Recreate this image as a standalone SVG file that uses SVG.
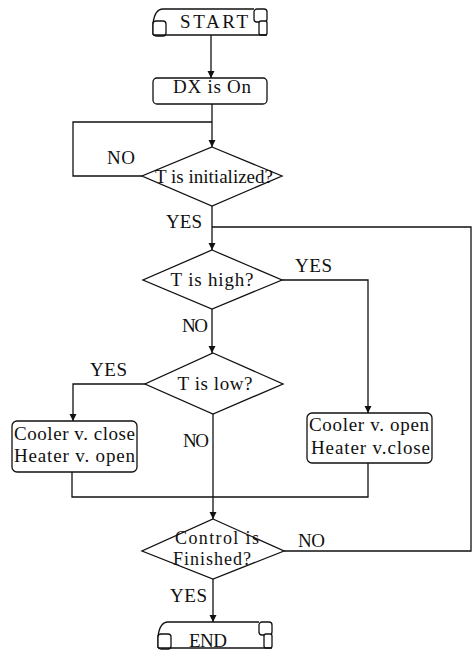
<svg xmlns="http://www.w3.org/2000/svg" width="476" height="651" viewBox="0 0 476 651">
<defs>
<marker id="arr" viewBox="0 0 10 10" refX="10" refY="5" markerWidth="7" markerHeight="8" markerUnits="userSpaceOnUse" orient="auto">
<path d="M0,0 L10,5 L0,10 z" fill="#111"/>
</marker>
<g id="scroll">
<path d="M0,26 L0,14 Q2,0 10,0 L101,0"/>
<rect x="101" y="0" width="13" height="13" rx="3"/>
<rect x="106" y="12" width="8" height="14" rx="2"/>
<rect x="0" y="12" width="13" height="15" rx="3"/>
<path d="M0,26 L114,26"/>
</g>
</defs>
<style>
.s{fill:none;stroke:#111;stroke-width:1.3}
.n{fill:#fff;stroke:#111;stroke-width:1.3}
text{font-family:"Liberation Serif","Times New Roman",serif;font-size:19px;fill:#111}
.m{text-anchor:middle}
.c{font-size:18px}
</style>
<rect width="476" height="651" fill="#fff"/>
<g id="connectors" class="s">
<path d="M211,35 L211,78" marker-end="url(#arr)"/>
<path d="M212,104 L212,147" marker-end="url(#arr)"/>
<path d="M142,176 L73,176 L73,122 L212,122"/>
<path d="M212,206 L212,250" marker-end="url(#arr)"/>
<path d="M284,551 L471,551 L471,227 L212,227"/>
<path d="M282,280 L368,280 L368,413" marker-end="url(#arr)"/>
<path d="M212,309 L212,353" marker-end="url(#arr)"/>
<path d="M145,384 L73,384 L73,421" marker-end="url(#arr)"/>
<path d="M213,414 L213,519" marker-end="url(#arr)"/>
<path d="M72,472 L72,497 L368,497 L368,463"/>
<path d="M213,579 L213,622" marker-end="url(#arr)"/>
</g>
<g id="start">
<use href="#scroll" x="153" y="9" class="n"/>
<text x="214" y="28" class="m" textLength="68">START</text>
</g>
<g id="dx">
<rect x="153" y="78" width="114" height="26" rx="4" class="n"/>
<text x="212" y="93" class="m" textLength="78">DX is On</text>
</g>
<g id="init">
<polygon points="212,147 282,176 212,206 142,176" class="n"/>
<text x="155" y="183" textLength="118">T is initialized?</text>
</g>
<g id="high">
<polygon points="212,250 282,280 212,309 143,280" class="n"/>
<text x="212" y="286" class="m" textLength="83">T is high?</text>
</g>
<g id="low">
<polygon points="213,353 283,384 213,414 145,384" class="n"/>
<text x="215" y="390" class="m" textLength="75">T is low?</text>
</g>
<g id="coolclose">
<rect x="12" y="421" width="125" height="51" rx="5" class="n"/>
<text x="14" y="440" textLength="121">Cooler v. close</text>
<text x="14" y="462" textLength="121">Heater v. open</text>
</g>
<g id="coolopen">
<rect x="307" y="413" width="125" height="50" rx="5" class="n"/>
<text x="309" y="431" textLength="120">Cooler v. open</text>
<text x="311" y="454" textLength="119">Heater v.close</text>
</g>
<g id="control">
<polygon points="213,519 284,551 213,579 142,551" class="n"/>
<text x="217" y="544" class="m c" textLength="84">Control is</text>
<text x="212" y="565" class="m c" textLength="78">Finished?</text>
</g>
<g id="end">
<use href="#scroll" x="158" y="622" class="n"/>
<text x="208" y="647" class="m" textLength="38">END</text>
</g>
<g id="labels">
<text x="107" y="164" textLength="28">NO</text>
<text x="166" y="228" textLength="36">YES</text>
<text x="295" y="272" textLength="37">YES</text>
<text x="182" y="332" textLength="26">NO</text>
<text x="90" y="376" textLength="37">YES</text>
<text x="183" y="447" textLength="26">NO</text>
<text x="298" y="547" textLength="27">NO</text>
<text x="170" y="602" textLength="37">YES</text>
</g>
</svg>
